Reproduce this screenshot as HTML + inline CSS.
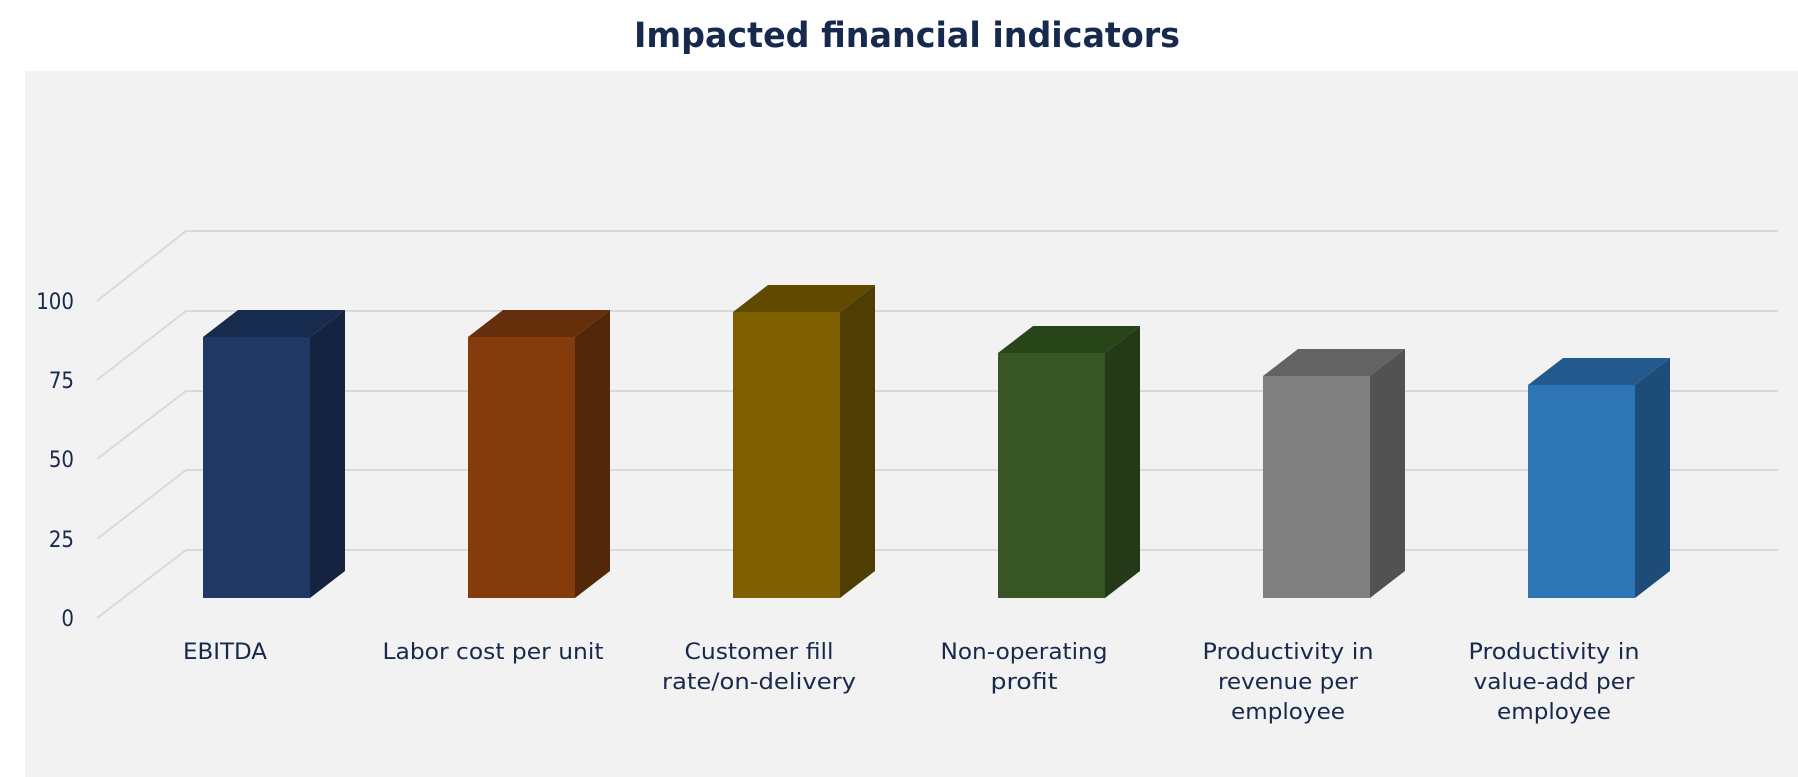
<!DOCTYPE html>
<html><head><meta charset="utf-8"><style>
html,body{margin:0;padding:0;background:#fff;}
svg{display:block;}
text{font-family:"DejaVu Sans Condensed","Liberation Sans Narrow","Liberation Sans",sans-serif;fill:#17294d;}
</style></head><body>
<svg width="1798" height="777" viewBox="0 0 1798 777" xmlns="http://www.w3.org/2000/svg">
<rect x="0" y="0" width="1798" height="777" fill="#fff"/>
<text x="907" y="47" text-anchor="middle" font-size="35" font-weight="bold" textLength="546" lengthAdjust="spacingAndGlyphs">Impacted financial indicators</text>
<rect x="25" y="71" width="1773" height="706" fill="#f2f2f2"/>
<g stroke="#d9d9d9" stroke-width="2" fill="none">
<polyline points="97,301 186,231 1778,231"/>
<polyline points="97,380 186,311 1778,311"/>
<polyline points="97,459 186,391 1778,391"/>
<polyline points="97,539 186,470 1778,470"/>
<polyline points="97,618 186,550 1778,550"/>
</g>
<g font-size="22" text-anchor="end">
<text x="74" y="309">100</text>
<text x="74" y="388">75</text>
<text x="74" y="467">50</text>
<text x="74" y="547">25</text>
<text x="74" y="626">0</text>
</g>
<g>
<polygon points="203,337 238,310 345,310 310,337" fill="#172b4f"/>
<polygon points="310,337 345,310 345,571 310,598" fill="#152340"/>
<rect x="203" y="337" width="107" height="261" fill="#1f3864"/>

<polygon points="468,337 503,310 610,310 575,337" fill="#652f0b"/>
<polygon points="575,337 610,310 610,571 575,598" fill="#532709"/>
<rect x="468" y="337" width="107" height="261" fill="#843c0c"/>

<polygon points="733,312 768,285 875,285 840,312" fill="#614a00"/>
<polygon points="840,312 875,285 875,571 840,598" fill="#4f3e03"/>
<rect x="733" y="312" width="107" height="286" fill="#7f6000"/>

<polygon points="998,353 1033,326 1140,326 1105,353" fill="#284419"/>
<polygon points="1105,353 1140,326 1140,571 1105,598" fill="#233918"/>
<rect x="998" y="353" width="107" height="245" fill="#375623"/>

<polygon points="1263,376 1298,349 1405,349 1370,376" fill="#636363"/>
<polygon points="1370,376 1405,349 1405,571 1370,598" fill="#525252"/>
<rect x="1263" y="376" width="107" height="222" fill="#808080"/>

<polygon points="1528,385 1563,358 1670,358 1635,385" fill="#225a8e"/>
<polygon points="1635,385 1670,358 1670,571 1635,598" fill="#1e4c78"/>
<rect x="1528" y="385" width="107" height="213" fill="#2e75b6"/>
</g>
<g font-size="22" text-anchor="middle">
<text x="225" y="659" textLength="84" lengthAdjust="spacingAndGlyphs">EBITDA</text>
<text x="493" y="659" textLength="221" lengthAdjust="spacingAndGlyphs">Labor cost per unit</text>
<text x="759" y="659" textLength="149" lengthAdjust="spacingAndGlyphs">Customer fill</text>
<text x="759" y="689" textLength="194" lengthAdjust="spacingAndGlyphs">rate/on-delivery</text>
<text x="1024" y="659" textLength="167" lengthAdjust="spacingAndGlyphs">Non-operating</text>
<text x="1024" y="689" textLength="67" lengthAdjust="spacingAndGlyphs">profit</text>
<text x="1288" y="659" textLength="171" lengthAdjust="spacingAndGlyphs">Productivity in</text>
<text x="1288" y="689" textLength="140" lengthAdjust="spacingAndGlyphs">revenue per</text>
<text x="1288" y="719" textLength="114" lengthAdjust="spacingAndGlyphs">employee</text>
<text x="1554" y="659" textLength="171" lengthAdjust="spacingAndGlyphs">Productivity in</text>
<text x="1554" y="689" textLength="161" lengthAdjust="spacingAndGlyphs">value-add per</text>
<text x="1554" y="719" textLength="114" lengthAdjust="spacingAndGlyphs">employee</text>
</g>
</svg>
</body></html>
